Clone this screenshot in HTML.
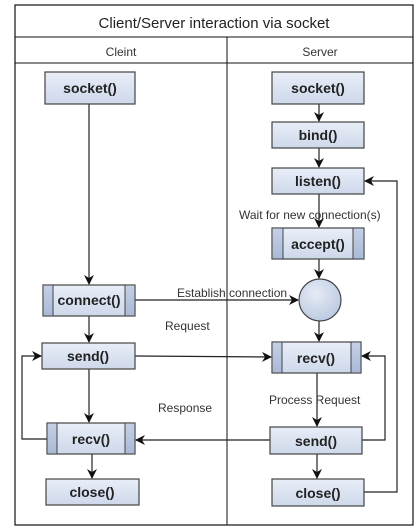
<!DOCTYPE html>
<html><head><style>html,body{margin:0;padding:0;background:#fff}svg{display:block}</style></head>
<body>
<svg width="419" height="530" viewBox="0 0 419 530" xmlns="http://www.w3.org/2000/svg" font-family="Liberation Sans, sans-serif">
<defs>
<linearGradient id="g" x1="0" y1="0" x2="0" y2="1"><stop offset="0" stop-color="#e9eef8"/><stop offset="1" stop-color="#cdd8ea"/></linearGradient>
<linearGradient id="gs" x1="0" y1="0" x2="0" y2="1"><stop offset="0" stop-color="#c4d0e6"/><stop offset="1" stop-color="#a9b9d6"/></linearGradient>
<radialGradient id="gc" cx="0.4" cy="0.35" r="0.7"><stop offset="0" stop-color="#e6ecf6"/><stop offset="1" stop-color="#bac8e0"/></radialGradient>
<marker id="a" markerWidth="10" markerHeight="10" refX="9" refY="5" orient="auto" markerUnits="userSpaceOnUse"><path d="M0,0 L10,5 L0,10 L3,5 z" fill="#111"/></marker>
</defs>
<rect x="15" y="5" width="398" height="520" fill="#fff" stroke="#111" stroke-width="1.2"/>
<line x1="15" y1="37" x2="413" y2="37" stroke="#111"/>
<line x1="15" y1="63" x2="413" y2="63" stroke="#111"/>
<line x1="227" y1="37" x2="227" y2="525" stroke="#111"/>
<text x="214" y="28" font-size="15" text-anchor="middle" fill="#222">Client/Server interaction via socket</text>
<text x="121" y="56" font-size="12" text-anchor="middle" fill="#333">Cleint</text>
<text x="320" y="56" font-size="12" text-anchor="middle" fill="#333">Server</text>

<g stroke="#222" stroke-width="1.2" fill="none">
<line x1="89" y1="104" x2="89" y2="284" marker-end="url(#a)"/>
<line x1="89" y1="316" x2="89" y2="342" marker-end="url(#a)"/>
<line x1="89" y1="369" x2="89" y2="422" marker-end="url(#a)"/>
<line x1="92" y1="454" x2="92" y2="478" marker-end="url(#a)"/>
<polyline points="47,439 22,439 22,356 41,356" marker-end="url(#a)"/>
<line x1="135" y1="300" x2="298" y2="300" marker-end="url(#a)"/>
<line x1="135" y1="356" x2="271" y2="357" marker-end="url(#a)"/>
<line x1="270" y1="440" x2="136" y2="440" marker-end="url(#a)"/>
<line x1="319" y1="104" x2="319" y2="121" marker-end="url(#a)"/>
<line x1="319" y1="148" x2="319" y2="167" marker-end="url(#a)"/>
<line x1="319" y1="194" x2="319" y2="227" marker-end="url(#a)"/>
<line x1="319" y1="259" x2="319" y2="278" marker-end="url(#a)"/>
<line x1="319" y1="321" x2="319" y2="341" marker-end="url(#a)"/>
<line x1="317" y1="373" x2="317" y2="426" marker-end="url(#a)"/>
<line x1="317" y1="454" x2="317" y2="478" marker-end="url(#a)"/>
<polyline points="362,440 385,440 385,356 362,356" marker-end="url(#a)"/>
<polyline points="364,492 397,492 397,181 365,181" marker-end="url(#a)"/>
</g>

<g stroke="#444" stroke-width="1.2" fill="url(#g)">
<rect x="45" y="72" width="90" height="32"/>
<rect x="43" y="285" width="92" height="31"/>
<rect x="42" y="343" width="93" height="26"/>
<rect x="47" y="423" width="88" height="31"/>
<rect x="46" y="479" width="93" height="26"/>
<rect x="272" y="72" width="92" height="32"/>
<rect x="272" y="122" width="92" height="26"/>
<rect x="272" y="168" width="92" height="26"/>
<rect x="272" y="228" width="92" height="31"/>
<rect x="272" y="342" width="89" height="31"/>
<rect x="270" y="427" width="92" height="27"/>
<rect x="272" y="479" width="92" height="27"/>
</g>
<g stroke="#444" stroke-width="1" fill="url(#gs)">
<rect x="43" y="285" width="10" height="31"/><rect x="125" y="285" width="10" height="31"/>
<rect x="47" y="423" width="10" height="31"/><rect x="125" y="423" width="10" height="31"/>
<rect x="272" y="228" width="11" height="31"/><rect x="353" y="228" width="11" height="31"/>
<rect x="272" y="342" width="10" height="31"/><rect x="351" y="342" width="10" height="31"/>
</g>
<circle cx="320" cy="300" r="21" fill="url(#gc)" stroke="#444" stroke-width="1.2"/>

<g font-size="14" font-weight="bold" text-anchor="middle" fill="#222">
<text x="90" y="93">socket()</text>
<text x="89" y="305">connect()</text>
<text x="88" y="361">send()</text>
<text x="91" y="444">recv()</text>
<text x="92" y="497">close()</text>
<text x="318" y="93">socket()</text>
<text x="318" y="140">bind()</text>
<text x="318" y="186">listen()</text>
<text x="318" y="249">accept()</text>
<text x="316" y="363">recv()</text>
<text x="316" y="446">send()</text>
<text x="318" y="498">close()</text>
</g>
<g font-size="12" fill="#333">
<text x="239" y="219">Wait for new connection(s)</text>
<text x="177" y="297">Establish connection</text>
<text x="165" y="330">Request</text>
<text x="158" y="412">Response</text>
<text x="269" y="404">Process Request</text>
</g>
</svg>
</body></html>
